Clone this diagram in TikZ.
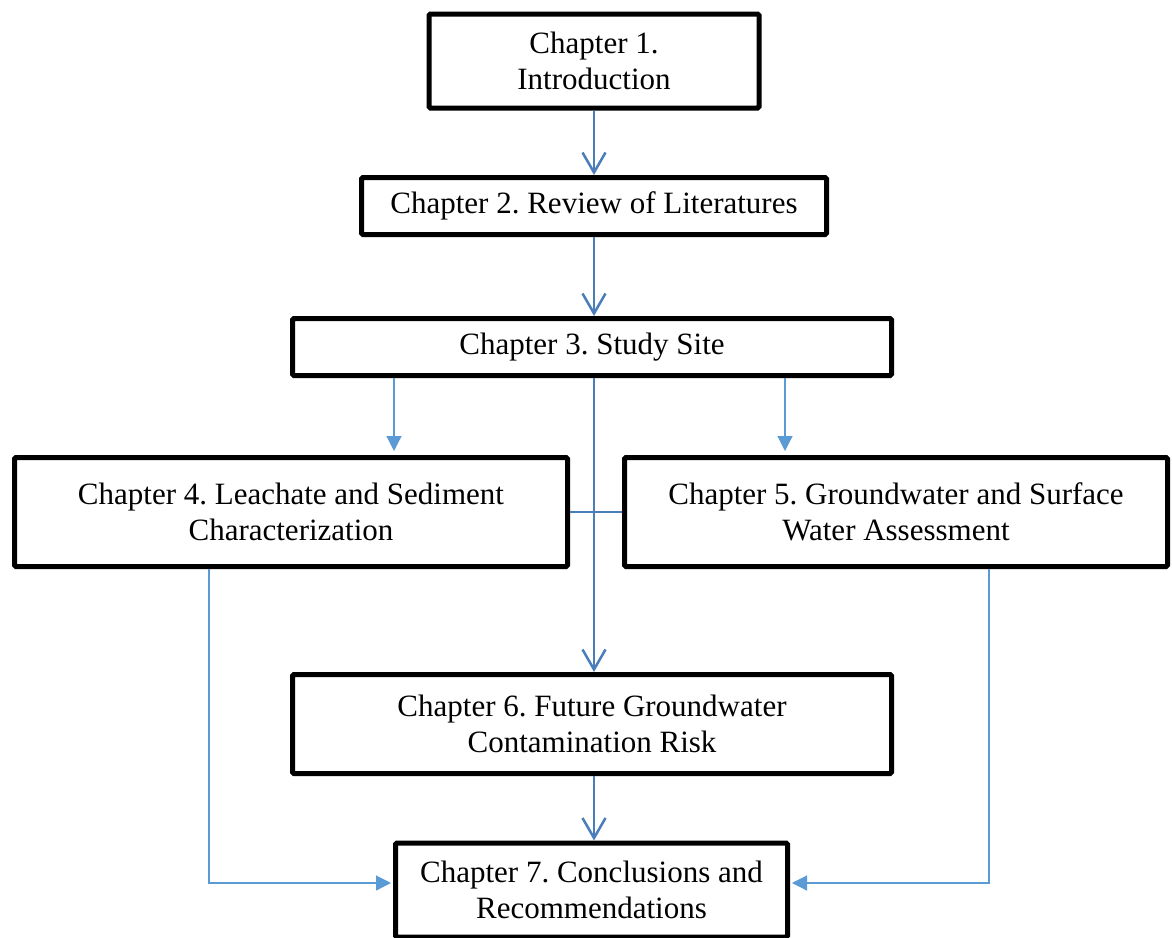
\documentclass[tikz,border=0pt]{standalone}
\usepackage{fontspec}
\setmainfont{Liberation Serif}
\usetikzlibrary{arrows.meta}
\definecolor{thickblue}{HTML}{4A7EBB}
\definecolor{thinblue}{HTML}{5B9BD5}
\frenchspacing
\begin{document}
\begin{tikzpicture}[x=1pt,y=-1pt,
  chbox/.style={draw=black,line width=5pt,rounded corners=1.5pt,fill=white,align=center,
    font=\fontsize{31}{36}\selectfont,inner sep=0pt},
  mainarrow/.style={draw=thickblue,line width=2.5pt,-{Straight Barb[length=20pt,width=23pt,line width=2.5pt]}},
  sidearrow/.style={draw=thinblue,line width=1.2pt,-{Triangle[length=15pt,width=15pt]}},
  crossline/.style={draw=thickblue,line width=2.5pt}]
\clip (0,0) rectangle (1172,937);
\fill[white] (0,0) rectangle (1172,937);
\node[chbox,minimum width=330pt,minimum height=94pt] (b1) at (594,61) {Chapter 1.\\Introduction};
\node[chbox,minimum width=465pt,minimum height=57pt] (b2) at (594,206) {Chapter 2. Review of Literatures};
\node[chbox,minimum width=599pt,minimum height=57pt] (b3) at (592,347) {Chapter 3. Study Site};
\node[chbox,minimum width=553pt,minimum height=109pt] (b4) at (291,512) {Chapter 4. Leachate and Sediment\\Characterization};
\node[chbox,minimum width=543pt,minimum height=109pt] (b5) at (896,512) {Chapter 5. Groundwater and Surface\\Water Assessment};
\node[chbox,minimum width=599pt,minimum height=99pt] (b6) at (592,724) {Chapter 6. Future Groundwater\\Contamination Risk};
\node[chbox,minimum width=392pt,minimum height=94pt] (b7) at (591.5,890) {Chapter 7. Conclusions and\\Recommendations};
\coordinate (x594) at (594,0);
\coordinate (x394) at (394,0);
\coordinate (x785) at (785,0);
\coordinate (x209) at (209,0);
\coordinate (x989) at (989,0);
\coordinate (y883) at (0,883);
\draw[mainarrow] (b1.south -| x594) -- (b2.north -| x594);
\draw[mainarrow] (b2.south -| x594) -- (b3.north -| x594);
\draw[mainarrow] (b3.south -| x594) -- (b6.north -| x594);
\draw[mainarrow] (b6.south -| x594) -- (b7.north -| x594);
\draw[crossline] (b4.east) -- (b5.west);
\draw[sidearrow,shorten >=4pt] (b3.south -| x394) -- (b4.north -| x394);
\draw[sidearrow,shorten >=4pt] (b3.south -| x785) -- (b5.north -| x785);
\draw[sidearrow,shorten >=2pt] (b4.south -| x209) |- (b7.west |- y883);
\draw[sidearrow,shorten >=2pt] (b5.south -| x989) |- (b7.east |- y883);
\end{tikzpicture}
\end{document}
